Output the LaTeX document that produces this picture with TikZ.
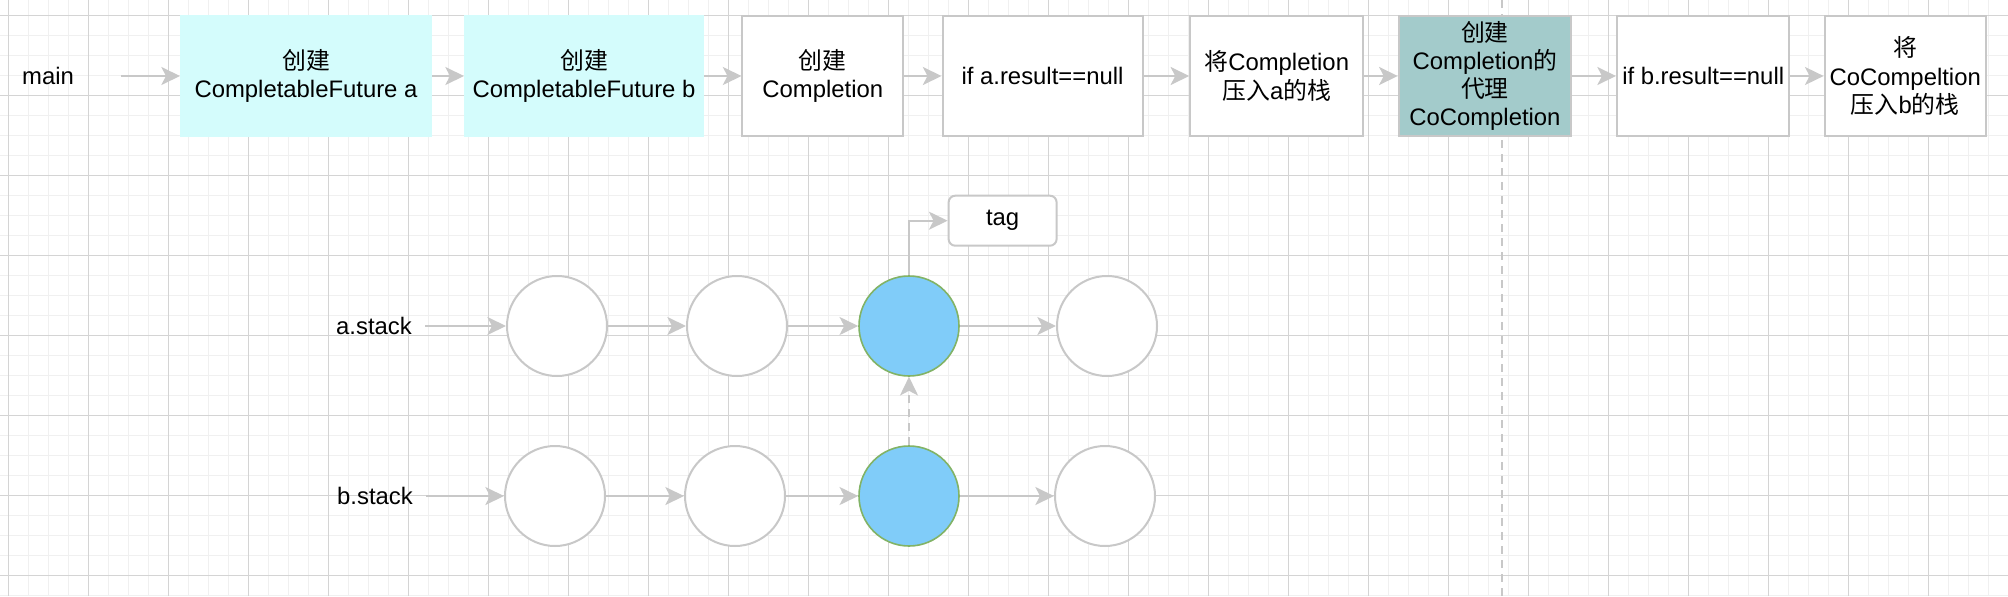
\documentclass[tikz,border=0pt]{standalone}
\usepackage{fontspec}
\setmainfont{Liberation Sans}
\newfontfamily\cjk{Noto Sans CJK SC}
\usetikzlibrary{arrows.meta}
\definecolor{gmajor}{RGB}{212,212,212}
\definecolor{gminor}{RGB}{240,240,240}
\definecolor{edgegray}{RGB}{200,200,200}
\definecolor{cyanfill}{RGB}{212,252,252}
\definecolor{tealfill}{RGB}{163,203,203}
\definecolor{bluefill}{RGB}{128,204,249}
\definecolor{greenedge}{RGB}{130,179,102}
\newcommand{\zh}[1]{{\cjk #1}}
\begin{document}
\begin{tikzpicture}[x=0.75pt,y=-0.75pt,
  txt/.style={font=\fontsize{17.9}{21.2}\selectfont, inner sep=0pt, align=center},
  box/.style={txt, draw=edgegray, line width=1.5pt, fill=white, minimum height=90pt},
  cyanbox/.style={box, draw=cyanfill, fill=cyanfill},
  tealbox/.style={box, fill=tealfill},
  cir/.style={circle, draw=edgegray, line width=1.5pt, fill=white, minimum size=75pt, inner sep=0pt},
  bluecir/.style={cir, draw=greenedge, line width=1.2pt, fill=bluefill},
  tagbox/.style={txt, draw=edgegray, line width=1.5pt, fill=white, rounded corners=5pt, minimum width=81pt, minimum height=37.5pt},
  arr/.style={draw=edgegray, line width=1.5pt, -{Stealth[length=14pt,width=13.5pt,inset=3.5pt,fill=edgegray]}},
  dasharr/.style={arr, dash pattern=on 6pt off 4.5pt},
  divider/.style={draw=edgegray, line width=1.5pt, dash pattern=on 6pt off 4.5pt},
]
\useasboundingbox (0,0) rectangle (2008,596);
\fill[white] (0,0) rectangle (2008,596);
% grid
\foreach \x in {8,28,...,2008} \draw[gminor, line width=0.75pt] (\x,0) -- (\x,596);
\foreach \y in {15,35,...,595} \draw[gminor, line width=0.75pt] (0,\y) -- (2008,\y);
\foreach \x in {8,88,...,2008} \draw[gmajor, line width=0.75pt] (\x,0) -- (\x,596);
\foreach \y in {15,95,...,595} \draw[gmajor, line width=0.75pt] (0,\y) -- (2008,\y);
% divider
\coordinate (dtop) at (1502,0);
\coordinate (dbot) at (1502,596);
\draw[divider] (dtop) -- (dbot);
% top row
\node[txt, minimum width=109.5pt] (main) at (48,76) {main};
\node[cyanbox, minimum width=187.5pt] (A) at (306,76) {\zh{创建}\\CompletableFuture a};
\node[cyanbox, minimum width=178.5pt] (B) at (584,76) {\zh{创建}\\CompletableFuture b};
\node[box, minimum width=120.4pt] (C) at (822.75,76) {\zh{创建}\\Completion};
\node[box, minimum width=150pt] (D) at (1042.5,76) {if a.result==null};
\node[box, minimum width=129.75pt] (E) at (1276.75,76) {\zh{将}Completion\\\zh{压入}a\zh{的栈}};
\node[tealbox, minimum width=129.2pt] (F) at (1484.9,76) {\zh{创建}\\Completion\zh{的}\\\zh{代理}\\CoCompletion};
\node[box, minimum width=129.3pt] (G) at (1703.2,76) {if b.result==null};
\node[box, minimum width=120.9pt] (H) at (1905.2,76) {\zh{将}\\CoCompeltion\\\zh{压入}b\zh{的栈}};
\draw[arr] (main.east) -- (A.west);
\draw[arr] (A.east) -- (B.west);
\draw[arr] (B.east) -- (C.west);
\draw[arr] (C.east) -- (D.west);
\draw[arr] (D.east) -- (E.west);
\draw[arr] (E.east) -- (F.west);
\draw[arr] (F.east) -- (G.west);
\draw[arr] (G.east) -- (H.west);
% stacks
\node[txt, minimum width=76.5pt] (astack) at (374,326) {a.stack};
\node[txt, minimum width=76.5pt] (bstack) at (375,496) {b.stack};
\node[cir] (a1) at (557,326) {};
\node[cir] (a2) at (737,326) {};
\node[bluecir] (a3) at (909,326) {};
\node[cir] (a4) at (1107,326) {};
\node[cir] (b1) at (555,496) {};
\node[cir] (b2) at (735,496) {};
\node[bluecir] (b3) at (909,496) {};
\node[cir] (b4) at (1105,496) {};
\node[tagbox] (tag) at (1002.6,220.7) {tag};
\draw[arr] (astack.east) -- (a1.west);
\draw[arr] (a1.east) -- (a2.west);
\draw[arr] (a2.east) -- (a3.west);
\draw[arr] (a3.east) -- (a4.west);
\draw[arr] (bstack.east) -- (b1.west);
\draw[arr] (b1.east) -- (b2.west);
\draw[arr] (b2.east) -- (b3.west);
\draw[arr] (b3.east) -- (b4.west);
\draw[arr] (a3.north) |- (tag.west);
\draw[dasharr] (b3.north) -- (a3.south);
\end{tikzpicture}
\end{document}
